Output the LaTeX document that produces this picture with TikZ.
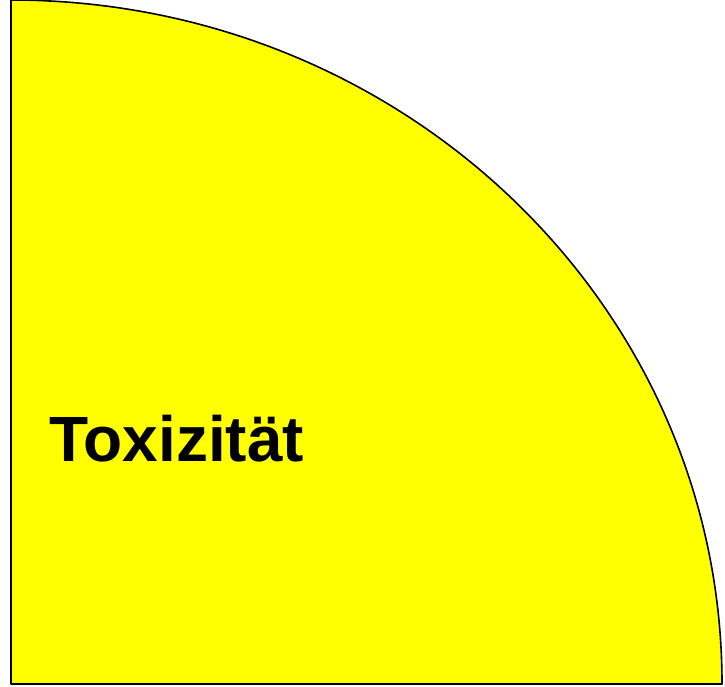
\documentclass[tikz,border=0pt]{standalone}
\usepackage{fontspec}
\setmainfont{Liberation Sans}
\begin{document}
\begin{tikzpicture}[x=1pt,y=1pt,
  quad/.style={fill={rgb,255:red,255;green,255;blue,0},draw=black,line width=1.6pt,line join=round},
  lbl/.style={font=\fontsize{64}{70}\selectfont\bfseries,inner sep=0pt,anchor=base west}]
\useasboundingbox (0,0) rectangle (725,687);
\path[fill=white] (0,0) rectangle (725,687);
\coordinate (c) at (11,3);
\draw[quad] (c) -- ++(0,684) arc[start angle=90,end angle=0,x radius=711,y radius=684] -- cycle;
\node[lbl] (t) at (49,225) {Toxizität};
\end{tikzpicture}
\end{document}
